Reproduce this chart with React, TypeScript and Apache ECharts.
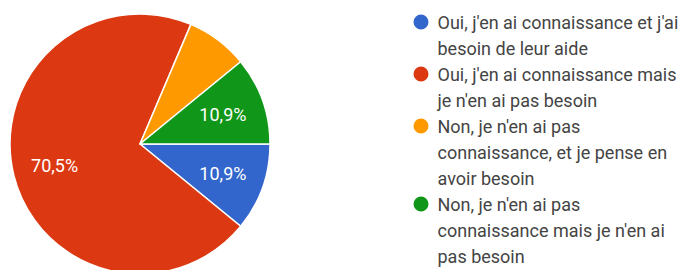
import React, { useEffect, useRef } from "react";
import * as echarts from "echarts";

const categories = [
  "Oui, j'en ai connaissance et j'ai besoin de leur aide",
  "Oui, j'en ai connaissance mais je n'en ai pas besoin",
  "Non, je n'en ai pas connaissance, et je pense en avoir besoin",
  "Non, je n'en ai pas connaissance mais je n'en ai pas besoin",
];
const legendLines = [
  ["Oui, j'en ai connaissance et j'ai", "besoin de leur aide"],
  ["Oui, j'en ai connaissance mais", "je n'en ai pas besoin"],
  ["Non, je n'en ai pas", "connaissance, et je pense en", "avoir besoin"],
  ["Non, je n'en ai pas", "connaissance mais je n'en ai", "pas besoin"],
];
const percentages = [10.9, 70.5, 7.7, 10.9];
const colors = ["#3366cc", "#dc3912", "#ff9900", "#109618"];

const FONT = "Roboto";
const LH = 26;

export default function App() {
  const ref = useRef<HTMLDivElement>(null);
  useEffect(() => {
    if (!ref.current) return;
    const chart = echarts.init(ref.current, undefined, { renderer: "svg" });
    const rich: any = {
      g: { width: 9, lineHeight: LH },
      s: { width: 24, lineHeight: LH },
      t: { fontSize: 18, fontFamily: FONT, color: "#444", lineHeight: LH },
    };
    colors.forEach((c, i) => {
      rich["d" + i] = {
        width: 15,
        height: 15,
        borderRadius: 7.5,
        backgroundColor: c,
        lineHeight: LH,
      };
    });
    const fmt = (v: number) => v.toFixed(1).replace(".", ",") + "%";
    // each legend entry placed below the previous one, by its number of lines
    let acc = 9;
    const legends = categories.map((name, i) => {
      const top = acc;
      acc += legendLines[i].length * LH;
      return {
        orient: "vertical",
        left: 407.5,
        top,
        padding: 0,
        itemGap: 0,
        itemWidth: 0,
        itemHeight: 0,
        selectedMode: false,
        data: [name],
        formatter: (n: string) => {
          const k0 = categories.indexOf(n);
          return legendLines[k0]
            .map((l, k) => (k === 0 ? `{d${k0}| }{g| }{t|${l}}` : `{s| }{t|${l}}`))
            .join("\n");
        },
        textStyle: { fontSize: 18, fontFamily: FONT, color: "#444", lineHeight: LH, rich },
      };
    });
    chart.setOption({
      animation: false,
      backgroundColor: "#fff",
      legend: legends,
      series: [
        {
          type: "pie",
          center: [140, 144],
          radius: 130,
          startAngle: 0,
          clockwise: true,
          silent: true,
          label: { show: false },
          labelLine: { show: false },
          itemStyle: { borderColor: "#fff", borderWidth: 1.5 },
          emphasis: { disabled: true },
          data: categories.map((name, i) => ({
            name,
            value: percentages[i],
            itemStyle: { color: colors[i] },
          })),
        },
        {
          type: "pie",
          center: [140, 144],
          radius: 170,
          startAngle: 0,
          clockwise: true,
          silent: true,
          avoidLabelOverlap: false,
          itemStyle: { color: "rgba(0,0,0,0)" },
          labelLine: { show: false },
          emphasis: { disabled: true },
          label: {
            show: true,
            position: "inside",
            fontSize: 18,
            fontFamily: FONT,
            color: "#fff",
            formatter: (p: any) => fmt(p.value),
          },
          data: categories.map((name, i) => ({
            name,
            value: percentages[i],
            label: { show: percentages[i] >= 10 },
          })),
        },
      ],
    });
    return () => chart.dispose();
  }, []);
  return (
    <div
      ref={ref}
      style={{ position: "fixed", left: 0, top: 0, width: 678, height: 270 }}
    />
  );
}
